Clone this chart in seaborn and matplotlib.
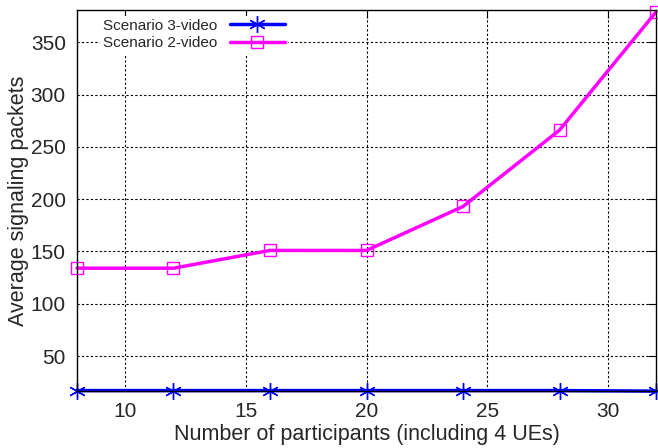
"""
Average signaling packets vs number of participants.
"""
import numpy as np
import pandas as pd
import matplotlib
matplotlib.use("Agg")
import matplotlib.pyplot as plt
import seaborn as sns

participants = [8, 12, 16, 20, 24, 28, 32]
scenario3_video = [17, 17, 17, 17, 17, 17, 16.5]
scenario2_video = [134, 134, 151, 151, 193, 266, 379]
series_names = ["Scenario 3-video", "Scenario 2-video"]
y_ticks = [50, 100, 150, 200, 250, 300, 350]
x_ticks = [10, 15, 20, 25, 30]


def main():
    sns.set_style("white")
    plt.rcParams["font.family"] = ["Liberation Sans", "DejaVu Sans"]

    fig = plt.figure(figsize=(6.58, 4.48), dpi=100)
    ax = fig.add_axes([0.117, 0.127, 0.880, 0.851])

    colors = ["#0000ff", "#ff00ff"]
    markers = [(6, 2, 0), "s"]
    sizes = [12, 9]
    for vals, name, c, m, ms in zip([scenario3_video, scenario2_video], series_names, colors, markers, sizes):
        sns.lineplot(x=participants, y=vals, color=c, marker=m, label=name,
                     linewidth=2.5, markersize=ms, markerfacecolor="none",
                     markeredgecolor=c, markeredgewidth=1.0, ax=ax, clip_on=False)

    ax.set_xlim(8, 32)
    ax.set_ylim(16.5, 381)
    ax.set_xticks(x_ticks)
    ax.set_yticks(y_ticks)
    ax.tick_params(direction="in", length=6, top=True, right=True,
                   labelsize=15, color="black", pad=8)
    ax.grid(True, color="black", linestyle=(0, (2, 2)), linewidth=0.8)
    for s in ax.spines.values():
        s.set_color("black")
        s.set_linewidth(1.0)
        s.set_zorder(5)

    ax.set_xlabel("Number of participants (including 4 UEs)", fontsize=15.5, labelpad=2)
    ax.set_ylabel("Average signaling packets", fontsize=15.5, labelpad=1)

    leg = ax.legend(loc="upper left", frameon=True, markerfirst=False,
                    fontsize=11, handlelength=3.6, borderaxespad=0.0,
                    bbox_to_anchor=(0.04, 0.985), labelspacing=0.25,
                    fancybox=False, framealpha=1.0, borderpad=0.2)
    leg.get_frame().set_edgecolor("none")
    leg.get_frame().set_facecolor("white")

    plt.savefig("out.png", dpi=100)
    plt.close()


if __name__ == "__main__":
    main()
